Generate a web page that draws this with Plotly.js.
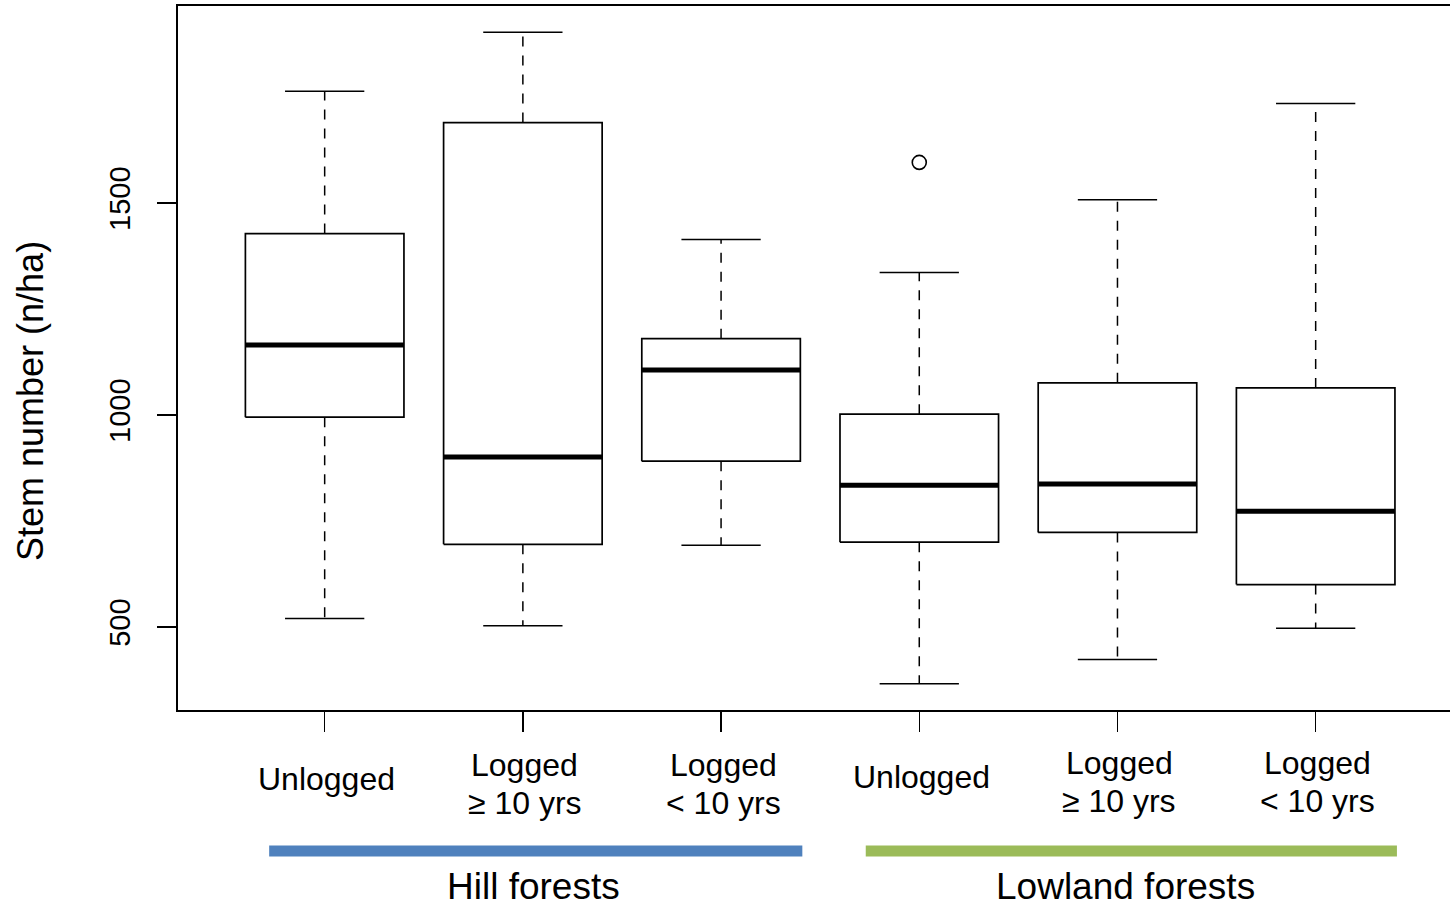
<!DOCTYPE html>
<html>
<head>
<meta charset="utf-8">
<script src="https://cdn.plot.ly/plotly-3.0.1.min.js"></script>
<style>html,body{margin:0;padding:0;background:#fff;}#chart{width:1450px;height:905px;}</style>
</head>
<body>
<div id="chart"></div>
<script>
// ---- data ----
const positions   = [1, 2, 3, 4, 5, 6];
const labelLine1  = ["Unlogged", "Logged", "Logged", "Unlogged", "Logged", "Logged"];
const labelLine2  = ["", "≥ 10 yrs", "< 10 yrs", "", "≥ 10 yrs", "< 10 yrs"];
const whiskerLow  = [520, 503, 693, 366, 423, 497];
const q1          = [995, 695, 891, 700, 723, 600];
const median      = [1165, 901, 1106, 834, 837, 773];
const q3          = [1428, 1690, 1180, 1002, 1076, 1064];
const whiskerHigh = [1764, 1903, 1414, 1336, 1508, 1735];
const outlierX    = [4];
const outlierY    = [1596];
const groupNames  = ["Hill forests", "Lowland forests"];
const yTicks      = [500, 1000, 1500];

// ---- build traces ----
const halfBox = 0.4, halfCap = 0.2;
const bx = [], by = [], mx = [], my = [], wx = [], wy = [], cx = [], cy = [];
positions.forEach((p, i) => {
  bx.push(p - halfBox, p + halfBox, p + halfBox, p - halfBox, p - halfBox, null);
  by.push(q1[i], q1[i], q3[i], q3[i], q1[i], null);
  mx.push(p - halfBox, p + halfBox, null);
  my.push(median[i], median[i], null);
  wx.push(p, p, null, p, p, null);
  wy.push(q3[i], whiskerHigh[i], null, q1[i], whiskerLow[i], null);
  cx.push(p - halfCap, p + halfCap, null, p - halfCap, p + halfCap, null);
  cy.push(whiskerHigh[i], whiskerHigh[i], null, whiskerLow[i], whiskerLow[i], null);
});

const traces = [
  {x: wx, y: wy, mode: 'lines', line: {color: '#000', width: 1.5, dash: '10px,9px'}, hoverinfo: 'skip'},
  {x: cx, y: cy, mode: 'lines', line: {color: '#000', width: 1.5}, hoverinfo: 'skip'},
  {x: bx, y: by, mode: 'lines', line: {color: '#000', width: 1.7}, hoverinfo: 'skip'},
  {x: mx, y: my, mode: 'lines', line: {color: '#000', width: 5}, hoverinfo: 'skip'},
  {x: outlierX, y: outlierY, mode: 'markers', marker: {symbol: 'circle-open', size: 14, color: '#000', line: {width: 1.6, color: '#000'}}, hoverinfo: 'skip'}
];

// ---- layout ----
const L = 178, T = 6, W = 1450, H = 905, PB = 710;
const plotH = PB - T;
const pyPaper = px => (PB - px) / plotH;
const FONT = 'Liberation Sans, Arial, sans-serif';

const annotations = [];
positions.forEach((p, i) => {
  const shift = i >= 3 ? -2 : 0;
  const common = {x: p, xref: 'x', yref: 'paper', showarrow: false, xshift: 2,
    xanchor: 'center', yanchor: 'middle', font: {family: FONT, size: 32, color: '#000'}};
  if (labelLine2[i] === "") {
    annotations.push(Object.assign({}, common, {y: pyPaper(779 + shift), text: labelLine1[i]}));
  } else {
    annotations.push(Object.assign({}, common, {y: pyPaper(765 + shift), text: labelLine1[i]}));
    annotations.push(Object.assign({}, common, {y: pyPaper(803 + shift), text: labelLine2[i]}));
  }
});
annotations.push({x: 2.053, xref: 'x', y: pyPaper(886), yref: 'paper', text: groupNames[0], showarrow: false,
  height: 34, valign: 'middle',
  xanchor: 'center', yanchor: 'middle', font: {family: FONT, size: 37, color: '#000'}});
annotations.push({x: 5.038, xref: 'x', y: pyPaper(886), yref: 'paper', text: groupNames[1], showarrow: false,
  height: 34, valign: 'middle',
  xanchor: 'center', yanchor: 'middle', font: {family: FONT, size: 37, color: '#000'}});
annotations.push({x: (30 - L) / (W - L), xref: 'paper', y: pyPaper(401), yref: 'paper', text: 'Stem number (n/ha)',
  textangle: -90, showarrow: false, xanchor: 'center', yanchor: 'middle', font: {family: FONT, size: 36, color: '#000'}});

const shapes = [
  {type: 'line', xref: 'x', yref: 'paper', x0: 0.72, x1: 3.41, y0: pyPaper(851), y1: pyPaper(851), line: {color: '#4F81BD', width: 11}},
  {type: 'line', xref: 'x', yref: 'paper', x0: 3.73, x1: 6.41, y0: pyPaper(851), y1: pyPaper(851), line: {color: '#9BBB59', width: 11}}
];

const layout = {
  width: W, height: H,
  margin: {l: L, r: 0, t: T, b: H - PB, pad: 0},
  paper_bgcolor: '#fff', plot_bgcolor: '#fff',
  showlegend: false,
  font: {family: FONT, color: '#000'},
  xaxis: {
    range: [0.26, 0.26 + (W - L) / 198.2],
    showgrid: false, zeroline: false,
    showline: true, linecolor: '#000', linewidth: 2, mirror: true,
    tickmode: 'array', tickvals: positions, ticks: 'outside', ticklen: 20, tickwidth: 1.5, tickcolor: '#000',
    showticklabels: false, fixedrange: true
  },
  yaxis: {
    range: [304, 1965],
    showgrid: false, zeroline: false,
    showline: true, linecolor: '#000', linewidth: 2,
    tickmode: 'array', tickvals: yTicks, ticktext: yTicks.map(String),
    ticks: 'outside', ticklen: 19, tickwidth: 1.5, tickcolor: '#000',
    tickangle: -90, ticklabelstandoff: 15,
    tickfont: {family: FONT, size: 29, color: '#000'}, fixedrange: true
  },
  annotations: annotations,
  shapes: shapes
};

Plotly.newPlot('chart', traces, layout, {staticPlot: true, displayModeBar: false});
</script>
</body>
</html>
